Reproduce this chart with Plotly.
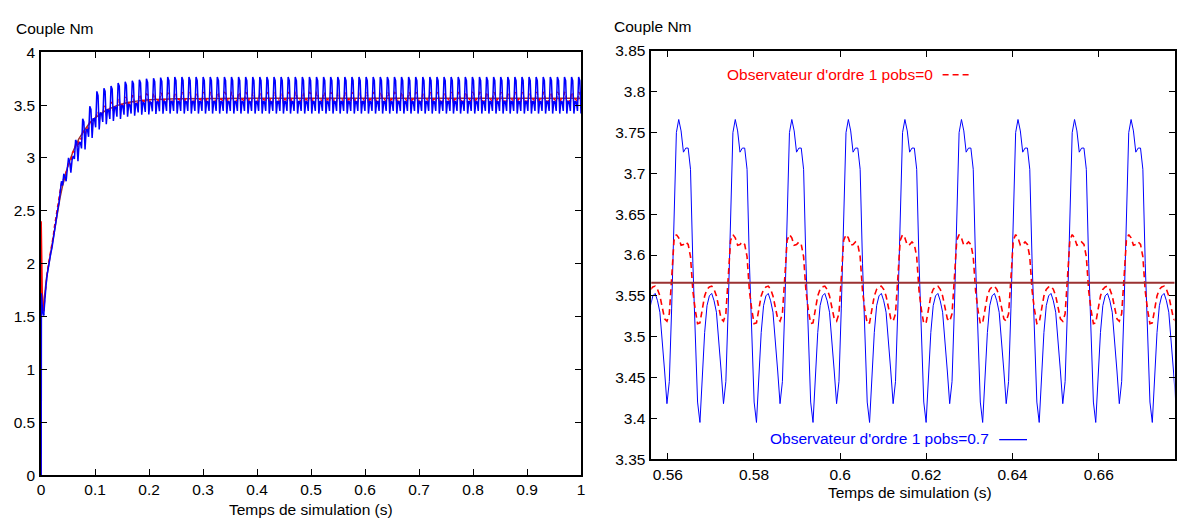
import plotly.graph_objects as go

# ---------------- data ----------------
# Left chart: full simulation 0..1 s (uniform sampling: x0 + i*dx)
LEFT_T0 = 0.00494
LEFT_DT = 0.0021867

# start-up points (t = 0 jump)
blue_init_t = [0.0, 0.0004, 0.0025, 0.00494]
blue_init_v = [0.0, 1.72, 1.56, 1.51]
red_init_t = [0.0, 0.0003, 0.0022, 0.00494]
red_init_v = [0.0, 2.40, 1.72, 1.55]

# observer pobs=0.7 (blue), samples every LEFT_DT
blue_left = [
    1.51, 1.68, 1.80, 1.90, 1.98, 2.04, 2.10, 2.15, 2.23, 2.33, 2.41, 2.47,
    2.52, 2.58, 2.70, 2.78, 2.74, 2.85, 2.82, 2.78, 2.90, 3.00, 2.96, 2.86,
    2.98, 3.02, 2.99, 3.17, 3.15, 2.97, 3.14, 3.15, 3.09, 3.37, 3.34, 3.08,
    3.27, 3.27, 3.20, 3.49, 3.46, 3.19, 3.37, 3.37, 3.29, 3.63, 3.59, 3.27,
    3.43, 3.42, 3.34, 3.66, 3.63, 3.32, 3.46, 3.45, 3.37, 3.68, 3.65, 3.35,
    3.48, 3.48, 3.39, 3.71, 3.68, 3.37, 3.50, 3.49, 3.41, 3.72, 3.69, 3.39,
    3.51, 3.50, 3.42, 3.73, 3.70, 3.40, 3.52, 3.51, 3.43, 3.74, 3.71, 3.41,
    3.527, 3.519, 3.436, 3.750, 3.716, 3.411, 3.532, 3.524, 3.441, 3.755, 3.721, 3.416,
    3.535, 3.527, 3.443, 3.760, 3.725, 3.418, 3.538, 3.530, 3.445, 3.766, 3.731, 3.420,
    3.538, 3.530, 3.445, 3.766, 3.731, 3.420, 3.538, 3.530, 3.445, 3.766, 3.731, 3.420,
    3.538, 3.530, 3.445, 3.766, 3.731, 3.420, 3.538, 3.530, 3.445, 3.766, 3.731, 3.420,
    3.538, 3.530, 3.445, 3.766, 3.731, 3.420, 3.538, 3.530, 3.445, 3.766, 3.731, 3.420,
    3.538, 3.530, 3.445, 3.766, 3.731, 3.420, 3.538, 3.530, 3.445, 3.766, 3.731, 3.420,
    3.538, 3.530, 3.445, 3.766, 3.731, 3.420, 3.538, 3.530, 3.445, 3.766, 3.731, 3.420,
    3.538, 3.530, 3.445, 3.766, 3.731, 3.420, 3.538, 3.530, 3.445, 3.766, 3.731, 3.420,
    3.538, 3.530, 3.445, 3.766, 3.731, 3.420, 3.538, 3.530, 3.445, 3.766, 3.731, 3.420,
    3.538, 3.530, 3.445, 3.766, 3.731, 3.420, 3.538, 3.530, 3.445, 3.766, 3.731, 3.420,
    3.538, 3.530, 3.445, 3.766, 3.731, 3.420, 3.538, 3.530, 3.445, 3.766, 3.731, 3.420,
    3.538, 3.530, 3.445, 3.766, 3.731, 3.420, 3.538, 3.530, 3.445, 3.766, 3.731, 3.420,
    3.538, 3.530, 3.445, 3.766, 3.731, 3.420, 3.538, 3.530, 3.445, 3.766, 3.731, 3.420,
    3.538, 3.530, 3.445, 3.766, 3.731, 3.420, 3.538, 3.530, 3.445, 3.766, 3.731, 3.420,
    3.538, 3.530, 3.445, 3.766, 3.731, 3.420, 3.538, 3.530, 3.445, 3.766, 3.731, 3.420,
    3.538, 3.530, 3.445, 3.766, 3.731, 3.420, 3.538, 3.530, 3.445, 3.766, 3.731, 3.420,
    3.538, 3.530, 3.445, 3.766, 3.731, 3.420, 3.538, 3.530, 3.445, 3.766, 3.731, 3.420,
    3.538, 3.530, 3.445, 3.766, 3.731, 3.420, 3.538, 3.530, 3.445, 3.766, 3.731, 3.420,
    3.538, 3.530, 3.445, 3.766, 3.731, 3.420, 3.538, 3.530, 3.445, 3.766, 3.731, 3.420,
    3.538, 3.530, 3.445, 3.766, 3.731, 3.420, 3.538, 3.530, 3.445, 3.766, 3.731, 3.420,
    3.538, 3.530, 3.445, 3.766, 3.731, 3.420, 3.538, 3.530, 3.445, 3.766, 3.731, 3.420,
    3.538, 3.530, 3.445, 3.766, 3.731, 3.420, 3.538, 3.530, 3.445, 3.766, 3.731, 3.420,
    3.538, 3.530, 3.445, 3.766, 3.731, 3.420, 3.538, 3.530, 3.445, 3.766, 3.731, 3.420,
    3.538, 3.530, 3.445, 3.766, 3.731, 3.420, 3.538, 3.530, 3.445, 3.766, 3.731, 3.420,
    3.538, 3.530, 3.445, 3.766, 3.731, 3.420, 3.538, 3.530, 3.445, 3.766, 3.731, 3.420,
    3.538, 3.530, 3.445, 3.766, 3.731, 3.420, 3.538, 3.530, 3.445, 3.766, 3.731, 3.420,
    3.538, 3.530, 3.445, 3.766, 3.731, 3.420, 3.538, 3.530, 3.445, 3.766, 3.731, 3.420,
    3.538, 3.530, 3.445, 3.766, 3.731, 3.420, 3.538, 3.530, 3.445, 3.766, 3.731, 3.420,
    3.538, 3.530, 3.445, 3.766, 3.731, 3.420, 3.538, 3.530, 3.445, 3.766, 3.731, 3.420,
    3.538, 3.530, 3.445, 3.766, 3.731, 3.420, 3.538, 3.530, 3.445, 3.766, 3.731, 3.420,
    3.538, 3.530, 3.445, 3.766, 3.731, 3.420, 3.538, 3.530, 3.445, 3.766, 3.731, 3.420,
]

# observer pobs=0 (red dashed), samples every LEFT_DT
red_left = [
    1.55, 1.70, 1.82, 1.92, 2.00, 2.06, 2.12, 2.18, 2.26, 2.35, 2.43, 2.49,
    2.55, 2.62, 2.70, 2.76, 2.77, 2.81, 2.84, 2.86, 2.90, 2.95, 2.96, 2.93,
    3.045, 3.060, 3.057, 3.133, 3.149, 3.100, 3.180, 3.183, 3.175, 3.249, 3.252, 3.191,
    3.286, 3.285, 3.274, 3.354, 3.354, 3.282, 3.368, 3.366, 3.353, 3.437, 3.436, 3.357,
    3.421, 3.418, 3.402, 3.490, 3.487, 3.403, 3.458, 3.454, 3.436, 3.527, 3.524, 3.433,
    3.486, 3.480, 3.460, 3.555, 3.550, 3.454, 3.506, 3.500, 3.480, 3.575, 3.570, 3.474,
    3.523, 3.516, 3.496, 3.590, 3.584, 3.488, 3.537, 3.529, 3.507, 3.600, 3.593, 3.495,
    3.544, 3.536, 3.514, 3.607, 3.600, 3.502, 3.548, 3.540, 3.518, 3.611, 3.604, 3.506,
    3.552, 3.544, 3.522, 3.615, 3.608, 3.510, 3.554, 3.546, 3.524, 3.617, 3.610, 3.512,
    3.556, 3.548, 3.526, 3.619, 3.612, 3.514, 3.558, 3.550, 3.528, 3.621, 3.614, 3.516,
    3.558, 3.550, 3.528, 3.621, 3.614, 3.516, 3.558, 3.550, 3.528, 3.621, 3.614, 3.516,
    3.558, 3.550, 3.528, 3.621, 3.614, 3.516, 3.558, 3.550, 3.528, 3.621, 3.614, 3.516,
    3.558, 3.550, 3.528, 3.621, 3.614, 3.516, 3.558, 3.550, 3.528, 3.621, 3.614, 3.516,
    3.558, 3.550, 3.528, 3.621, 3.614, 3.516, 3.558, 3.550, 3.528, 3.621, 3.614, 3.516,
    3.558, 3.550, 3.528, 3.621, 3.614, 3.516, 3.558, 3.550, 3.528, 3.621, 3.614, 3.516,
    3.558, 3.550, 3.528, 3.621, 3.614, 3.516, 3.558, 3.550, 3.528, 3.621, 3.614, 3.516,
    3.558, 3.550, 3.528, 3.621, 3.614, 3.516, 3.558, 3.550, 3.528, 3.621, 3.614, 3.516,
    3.558, 3.550, 3.528, 3.621, 3.614, 3.516, 3.558, 3.550, 3.528, 3.621, 3.614, 3.516,
    3.558, 3.550, 3.528, 3.621, 3.614, 3.516, 3.558, 3.550, 3.528, 3.621, 3.614, 3.516,
    3.558, 3.550, 3.528, 3.621, 3.614, 3.516, 3.558, 3.550, 3.528, 3.621, 3.614, 3.516,
    3.558, 3.550, 3.528, 3.621, 3.614, 3.516, 3.558, 3.550, 3.528, 3.621, 3.614, 3.516,
    3.558, 3.550, 3.528, 3.621, 3.614, 3.516, 3.558, 3.550, 3.528, 3.621, 3.614, 3.516,
    3.558, 3.550, 3.528, 3.621, 3.614, 3.516, 3.558, 3.550, 3.528, 3.621, 3.614, 3.516,
    3.558, 3.550, 3.528, 3.621, 3.614, 3.516, 3.558, 3.550, 3.528, 3.621, 3.614, 3.516,
    3.558, 3.550, 3.528, 3.621, 3.614, 3.516, 3.558, 3.550, 3.528, 3.621, 3.614, 3.516,
    3.558, 3.550, 3.528, 3.621, 3.614, 3.516, 3.558, 3.550, 3.528, 3.621, 3.614, 3.516,
    3.558, 3.550, 3.528, 3.621, 3.614, 3.516, 3.558, 3.550, 3.528, 3.621, 3.614, 3.516,
    3.558, 3.550, 3.528, 3.621, 3.614, 3.516, 3.558, 3.550, 3.528, 3.621, 3.614, 3.516,
    3.558, 3.550, 3.528, 3.621, 3.614, 3.516, 3.558, 3.550, 3.528, 3.621, 3.614, 3.516,
    3.558, 3.550, 3.528, 3.621, 3.614, 3.516, 3.558, 3.550, 3.528, 3.621, 3.614, 3.516,
    3.558, 3.550, 3.528, 3.621, 3.614, 3.516, 3.558, 3.550, 3.528, 3.621, 3.614, 3.516,
    3.558, 3.550, 3.528, 3.621, 3.614, 3.516, 3.558, 3.550, 3.528, 3.621, 3.614, 3.516,
    3.558, 3.550, 3.528, 3.621, 3.614, 3.516, 3.558, 3.550, 3.528, 3.621, 3.614, 3.516,
    3.558, 3.550, 3.528, 3.621, 3.614, 3.516, 3.558, 3.550, 3.528, 3.621, 3.614, 3.516,
    3.558, 3.550, 3.528, 3.621, 3.614, 3.516, 3.558, 3.550, 3.528, 3.621, 3.614, 3.516,
    3.558, 3.550, 3.528, 3.621, 3.614, 3.516, 3.558, 3.550, 3.528, 3.621, 3.614, 3.516,
    3.558, 3.550, 3.528, 3.621, 3.614, 3.516, 3.558, 3.550, 3.528, 3.621, 3.614, 3.516,
    3.558, 3.550, 3.528, 3.621, 3.614, 3.516, 3.558, 3.550, 3.528, 3.621, 3.614, 3.516,
]

# reference torque (dark red smooth curve)
ref_t = [0.0, 0.005, 0.01, 0.015, 0.02, 0.025, 0.03, 0.035, 0.04, 0.05, 0.06,
         0.07, 0.08, 0.09, 0.1, 0.12, 0.14, 0.16, 0.18, 0.2, 0.25, 0.3, 0.4,
         0.5, 1.0]
ref_v = [1.50, 1.62, 1.86, 2.02, 2.17, 2.33, 2.48, 2.62, 2.74, 2.93, 3.07,
         3.18, 3.26, 3.33, 3.38, 3.45, 3.495, 3.525, 3.54, 3.55, 3.56, 3.564,
         3.566, 3.566, 3.566]

# Right chart: zoom 0.556..0.678 s (uniform sampling)
RIGHT_T0 = 0.55598
RIGHT_DT = 0.0005467
blue_right = [
    3.538, 3.550, 3.553, 3.544, 3.530, 3.497, 3.458, 3.418, 3.445, 3.535, 3.660, 3.750,
    3.766, 3.752, 3.726, 3.731, 3.731, 3.705, 3.590, 3.490, 3.420, 3.395, 3.452, 3.505,
    3.538, 3.550, 3.553, 3.544, 3.530, 3.497, 3.458, 3.418, 3.445, 3.535, 3.660, 3.750,
    3.766, 3.752, 3.726, 3.731, 3.731, 3.705, 3.590, 3.490, 3.420, 3.395, 3.452, 3.505,
    3.538, 3.550, 3.553, 3.544, 3.530, 3.497, 3.458, 3.418, 3.445, 3.535, 3.660, 3.750,
    3.766, 3.752, 3.726, 3.731, 3.731, 3.705, 3.590, 3.490, 3.420, 3.395, 3.452, 3.505,
    3.538, 3.550, 3.553, 3.544, 3.530, 3.497, 3.458, 3.418, 3.445, 3.535, 3.660, 3.750,
    3.766, 3.752, 3.726, 3.731, 3.731, 3.705, 3.590, 3.490, 3.420, 3.395, 3.452, 3.505,
    3.538, 3.550, 3.553, 3.544, 3.530, 3.497, 3.458, 3.418, 3.445, 3.535, 3.660, 3.750,
    3.766, 3.752, 3.726, 3.731, 3.731, 3.705, 3.590, 3.490, 3.420, 3.395, 3.452, 3.505,
    3.538, 3.550, 3.553, 3.544, 3.530, 3.497, 3.458, 3.418, 3.445, 3.535, 3.660, 3.750,
    3.766, 3.752, 3.726, 3.731, 3.731, 3.705, 3.590, 3.490, 3.420, 3.395, 3.452, 3.505,
    3.538, 3.550, 3.553, 3.544, 3.530, 3.497, 3.458, 3.418, 3.445, 3.535, 3.660, 3.750,
    3.766, 3.752, 3.726, 3.731, 3.731, 3.705, 3.590, 3.490, 3.420, 3.395, 3.452, 3.505,
    3.538, 3.550, 3.553, 3.544, 3.530, 3.497, 3.458, 3.418, 3.445, 3.535, 3.660, 3.750,
    3.766, 3.752, 3.726, 3.731, 3.731, 3.705, 3.590, 3.490, 3.420, 3.395, 3.452, 3.505,
    3.538, 3.550, 3.553, 3.544, 3.530, 3.497, 3.458, 3.418, 3.445, 3.535, 3.660, 3.750,
    3.766, 3.752, 3.726, 3.731, 3.731, 3.705, 3.590, 3.490, 3.420, 3.395, 3.452, 3.505,
    3.538, 3.550, 3.553, 3.544, 3.530, 3.497, 3.458, 3.418,
]
red_right = [
    3.558, 3.561, 3.562, 3.558, 3.550, 3.537, 3.522, 3.519, 3.528, 3.572, 3.618, 3.625,
    3.621, 3.612, 3.613, 3.616, 3.613, 3.598, 3.556, 3.533, 3.516, 3.517, 3.535, 3.550,
    3.558, 3.561, 3.562, 3.558, 3.550, 3.537, 3.522, 3.519, 3.528, 3.572, 3.618, 3.625,
    3.621, 3.612, 3.613, 3.616, 3.613, 3.598, 3.556, 3.533, 3.516, 3.517, 3.535, 3.550,
    3.558, 3.561, 3.562, 3.558, 3.550, 3.537, 3.522, 3.519, 3.528, 3.572, 3.618, 3.625,
    3.621, 3.612, 3.613, 3.616, 3.613, 3.598, 3.556, 3.533, 3.516, 3.517, 3.535, 3.550,
    3.558, 3.561, 3.562, 3.558, 3.550, 3.537, 3.522, 3.519, 3.528, 3.572, 3.618, 3.625,
    3.621, 3.612, 3.613, 3.616, 3.613, 3.598, 3.556, 3.533, 3.516, 3.517, 3.535, 3.550,
    3.558, 3.561, 3.562, 3.558, 3.550, 3.537, 3.522, 3.519, 3.528, 3.572, 3.618, 3.625,
    3.621, 3.612, 3.613, 3.616, 3.613, 3.598, 3.556, 3.533, 3.516, 3.517, 3.535, 3.550,
    3.558, 3.561, 3.562, 3.558, 3.550, 3.537, 3.522, 3.519, 3.528, 3.572, 3.618, 3.625,
    3.621, 3.612, 3.613, 3.616, 3.613, 3.598, 3.556, 3.533, 3.516, 3.517, 3.535, 3.550,
    3.558, 3.561, 3.562, 3.558, 3.550, 3.537, 3.522, 3.519, 3.528, 3.572, 3.618, 3.625,
    3.621, 3.612, 3.613, 3.616, 3.613, 3.598, 3.556, 3.533, 3.516, 3.517, 3.535, 3.550,
    3.558, 3.561, 3.562, 3.558, 3.550, 3.537, 3.522, 3.519, 3.528, 3.572, 3.618, 3.625,
    3.621, 3.612, 3.613, 3.616, 3.613, 3.598, 3.556, 3.533, 3.516, 3.517, 3.535, 3.550,
    3.558, 3.561, 3.562, 3.558, 3.550, 3.537, 3.522, 3.519, 3.528, 3.572, 3.618, 3.625,
    3.621, 3.612, 3.613, 3.616, 3.613, 3.598, 3.556, 3.533, 3.516, 3.517, 3.535, 3.550,
    3.558, 3.561, 3.562, 3.558, 3.550, 3.537, 3.522, 3.519,
]

# ticks
left_x_ticks = [0, 0.1, 0.2, 0.3, 0.4, 0.5, 0.6, 0.7, 0.8, 0.9, 1.0]
left_x_labels = ["0", "0.1", "0.2", "0.3", "0.4", "0.5", "0.6", "0.7", "0.8", "0.9", "1"]
left_y_ticks = [0, 0.5, 1, 1.5, 2, 2.5, 3, 3.5, 4]
left_y_labels = ["0", "0.5", "1", "1.5", "2", "2.5", "3", "3.5", "4"]
right_x_ticks = [0.56, 0.58, 0.60, 0.62, 0.64, 0.66]
right_x_labels = ["0.56", "0.58", "0.6", "0.62", "0.64", "0.66"]
right_y_ticks = [3.35, 3.40, 3.45, 3.50, 3.55, 3.60, 3.65, 3.70, 3.75, 3.80, 3.85]
right_y_labels = ["3.35", "3.4", "3.45", "3.5", "3.55", "3.6", "3.65", "3.7", "3.75", "3.8", "3.85"]

y_title = "Couple Nm"
x_title = "Temps de simulation (s)"
legend_red = "Observateur d'ordre 1 pobs=0"
legend_blue = "Observateur d'ordre 1 pobs=0.7"

# ---------------- styling ----------------
W, H = 1179, 527
FONT = "Liberation Sans, Arial, Helvetica, sans-serif"
FS = 15.5
BLUE = "#0000ff"
RED = "#ff0000"
DARKRED = "#9b3232"


def fx(p):
    return p / W


def fy(p):
    return 1 - p / H


fig = go.Figure()

# left chart (red below, blue on top)
fig.add_trace(go.Scatter(x=ref_t, y=ref_v, mode="lines",
                         line=dict(color=DARKRED, width=1.5), xaxis="x", yaxis="y"))
fig.add_trace(go.Scatter(x=red_init_t, y=red_init_v, mode="lines",
                         line=dict(color=RED, width=1.5), xaxis="x", yaxis="y"))
fig.add_trace(go.Scatter(x0=LEFT_T0, dx=LEFT_DT, y=red_left, mode="lines",
                         line=dict(color=RED, width=1.3, dash="4px,3px"), xaxis="x", yaxis="y"))
fig.add_trace(go.Scatter(x=blue_init_t, y=blue_init_v, mode="lines",
                         line=dict(color=BLUE, width=1.8), xaxis="x", yaxis="y"))
fig.add_trace(go.Scatter(x0=LEFT_T0, dx=LEFT_DT, y=blue_left, mode="lines",
                         line=dict(color=BLUE, width=1.5), xaxis="x", yaxis="y"))

# right chart
fig.add_trace(go.Scatter(x0=RIGHT_T0, dx=RIGHT_DT, y=blue_right, mode="lines",
                         line=dict(color=BLUE, width=1), xaxis="x2", yaxis="y2"))
fig.add_trace(go.Scatter(x0=RIGHT_T0, dx=RIGHT_DT, y=red_right, mode="lines",
                         line=dict(color=RED, width=1.6, dash="6px,4px"), xaxis="x2", yaxis="y2"))
fig.add_trace(go.Scatter(x=ref_t, y=ref_v, mode="lines",
                         line=dict(color=DARKRED, width=2), xaxis="x2", yaxis="y2"))

axis_common = dict(showline=True, linecolor="black", linewidth=1.5, mirror="ticks",
                   ticks="inside", ticklen=6, tickwidth=1, tickcolor="black",
                   showgrid=False, zeroline=False, tickmode="array",
                   tickfont=dict(family=FONT, size=FS, color="black"))

fig.update_layout(
    width=W, height=H, autosize=False,
    margin=dict(l=0, r=0, t=0, b=0),
    paper_bgcolor="white", plot_bgcolor="white",
    showlegend=False,
    font=dict(family=FONT, size=FS, color="black"),
    xaxis=dict(domain=[fx(37.3), fx(581)], range=[0, 1], anchor="y",
               tickvals=left_x_ticks, ticktext=left_x_labels, **axis_common),
    yaxis=dict(domain=[fy(481.6), fy(44.7)], range=[0, 4], anchor="x",
               tickvals=left_y_ticks, ticktext=left_y_labels, ticklabelstandoff=1,
               **axis_common),
    xaxis2=dict(domain=[fx(651.7), fx(1178.5)], range=[0.55617, 0.67758], anchor="y2",
                tickvals=right_x_ticks, ticktext=right_x_labels, **axis_common),
    yaxis2=dict(domain=[fy(465.2), fy(43.3)], range=[3.35, 3.85], anchor="x2",
                tickvals=right_y_ticks, ticktext=right_y_labels, ticklabelstandoff=1,
                **axis_common),
)

ann = dict(xref="paper", yref="paper", showarrow=False)
fig.add_annotation(text=y_title, x=fx(10), y=fy(20), xanchor="left", yanchor="middle",
                   font=dict(family=FONT, size=FS, color="black"), **ann)
fig.add_annotation(text=y_title, x=fx(611.7), y=fy(18.3), xanchor="left", yanchor="middle",
                   font=dict(family=FONT, size=FS, color="black"), **ann)
fig.add_annotation(text=x_title, x=fx(309), y=fy(517), xanchor="center", yanchor="middle",
                   font=dict(family=FONT, size=FS, color="black"), **ann)
fig.add_annotation(text=x_title, x=fx(912.5), y=fy(500), xanchor="center", yanchor="middle",
                   font=dict(family=FONT, size=FS, color="black"), **ann)
fig.add_annotation(text=legend_red, x=fx(726), y=fy(67.5), xanchor="left", yanchor="middle",
                   font=dict(family=FONT, size=FS, color=RED), **ann)
fig.add_annotation(text=legend_blue, x=fx(769), y=fy(444), xanchor="left", yanchor="middle",
                   font=dict(family=FONT, size=FS, color=BLUE), **ann)

fig.add_shape(type="line", xref="paper", yref="paper", x0=fx(945), x1=fx(973), y0=fy(68), y1=fy(68),
              line=dict(color=RED, width=1.6, dash="6px,4px"))
fig.add_shape(type="line", xref="paper", yref="paper", x0=fx(1002), x1=fx(1030), y0=fy(445), y1=fy(445),
              line=dict(color=BLUE, width=1.3))

fig.write_html("out.html", config={"displayModeBar": False},
               post_script="document.body.style.margin='0';document.body.style.overflow='hidden';")
